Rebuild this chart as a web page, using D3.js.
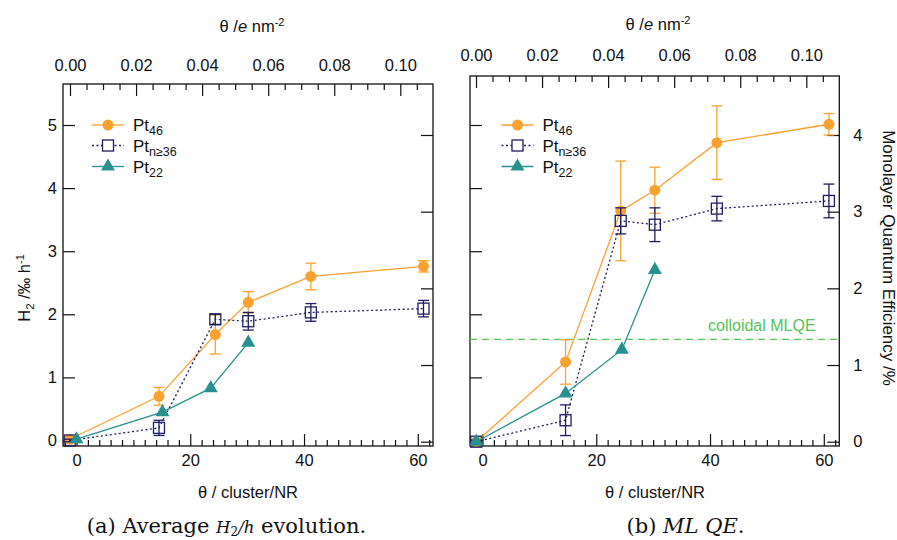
<!DOCTYPE html>
<html><head><meta charset="utf-8">
<script src="https://cdn.jsdelivr.net/npm/d3@7"></script>
<style>
body{margin:0;background:#fff}
svg{display:block}
text{font-family:"Liberation Sans",Arial,Helvetica,sans-serif;fill:#111}
</style>
</head><body>
<svg id="c" width="897" height="540"></svg>
<script>
// ---------------- DATA ----------------
// Panel (a): average H2 evolution rate (‰ h^-1)
const h2Pt46X   = [-1.2, 14.5, 24.4, 30.2, 41.2, 61.0];
const h2Pt46Y   = [0.02, 0.70, 1.68, 2.19, 2.60, 2.76];
const h2Pt46Err = [0.03, 0.14, 0.31, 0.17, 0.21, 0.09];
const h2PtnX    = [-1.2, 14.5, 24.4, 30.2, 41.2, 61.0];
const h2PtnY    = [0.00, 0.20, 1.92, 1.89, 2.03, 2.09];
const h2PtnErr  = [0.02, 0.12, 0.08, 0.14, 0.14, 0.13];
const h2Pt22X   = [0.0, 15.1, 23.6, 30.2];
const h2Pt22Y   = [0.02, 0.45, 0.83, 1.55];

// Panel (b): monolayer quantum efficiency (%)
const qPt46X   = [-1.1, 14.6, 24.3, 30.3, 41.2, 60.9];
const qPt46Y   = [0.00, 1.04, 3.01, 3.28, 3.90, 4.14];
const qPt46Err = [0.02, 0.29, 0.65, 0.30, 0.48, 0.14];
const qPtnX    = [-1.1, 14.6, 24.3, 30.3, 41.2, 60.9];
const qPtnY    = [0.00, 0.28, 2.88, 2.83, 3.04, 3.14];
const qPtnErr  = [0.02, 0.20, 0.17, 0.22, 0.16, 0.22];
const qPt22X   = [-1.1, 14.6, 24.5, 30.3];
const qPt22Y   = [0.00, 0.63, 1.20, 2.24];
const colloidalMLQE = 1.335;

// Ticks
const xMajor   = [0, 20, 40, 60];
const xMinor   = [-2,2,4,6,8,10,12,14,16,18,22,24,26,28,30,32,34,36,38,42,44,46,48,50,52,54,56,58,62];
const topMajor = [0.00, 0.02, 0.04, 0.06, 0.08, 0.10];
const topMinor = [0.005,0.01,0.015,0.025,0.03,0.035,0.045,0.05,0.055,0.065,0.07,0.075,0.085,0.09,0.095,0.105];
const h2Ticks  = [0, 1, 2, 3, 4, 5];
const qTicks   = [0, 1, 2, 3, 4];

const seriesNames = ["46", "n≥36", "22"];

// ---------------- STYLE ----------------
const C_OR = "#FBA130", C_NV = "#1E1C62", C_TL = "#27918F", C_GR = "#55C455";
const FS = 16.5;

const svg = d3.select("#c");

function zipPts(xs, ys, es) { return xs.map((x, i) => ({x, y: ys[i], e: es ? es[i] : 0})); }

function drawPanel(cfg) {
  const g = svg.append("g");
  const x  = d3.scaleLinear().domain([0, 60]).range([cfg.xz, cfg.xz + 341.3]);
  const xt = d3.scaleLinear().domain([0, 0.1]).range([cfg.tz, cfg.tz + 330.3]);
  const yH = d3.scaleLinear().domain([0, 5]).range([440.5, 125]);
  const yQ = d3.scaleLinear().domain([0, 4]).range([441.7, 135]);
  const y = cfg.which === "h2" ? yH : yQ;

  const styleAxis = sel => {
    sel.select(".domain").remove();
    sel.selectAll("line").attr("stroke", "#111").attr("stroke-width", 1.2);
    sel.selectAll("text").style("font-size", FS + "px").attr("fill", "#111");
  };

  // bottom axis
  g.append("g").attr("transform", `translate(0,${cfg.y1})`)
    .call(d3.axisBottom(x).tickValues(xMajor).tickSize(-12).tickPadding(8).tickFormat(d3.format("d")))
    .call(styleAxis);
  g.append("g").attr("transform", `translate(0,${cfg.y1})`)
    .call(d3.axisBottom(x).tickValues(xMinor).tickSize(-6).tickFormat(""))
    .call(styleAxis);
  // top axis
  g.append("g").attr("transform", `translate(0,${cfg.y0})`)
    .call(d3.axisTop(xt).tickValues(topMajor).tickSize(-12).tickPadding(cfg.topPad).tickFormat(d3.format(".2f")))
    .call(styleAxis);
  g.append("g").attr("transform", `translate(0,${cfg.y0})`)
    .call(d3.axisTop(xt).tickValues(topMinor).tickSize(-6).tickFormat(""))
    .call(styleAxis);
  // left axis (H2 scale)
  g.append("g").attr("transform", `translate(${cfg.x0},0)`)
    .call(d3.axisLeft(yH).tickValues(h2Ticks).tickSize(-12).tickPadding(6)
      .tickFormat(cfg.which === "h2" ? d3.format("d") : ""))
    .call(styleAxis);
  // right axis (MLQE scale)
  g.append("g").attr("transform", `translate(${cfg.x1},0)`)
    .call(d3.axisRight(yQ).tickValues(qTicks).tickSize(-12).tickPadding(14)
      .tickFormat(cfg.which === "q" ? d3.format("d") : ""))
    .call(styleAxis);

  // frame
  g.append("rect").attr("x", cfg.x0).attr("y", cfg.y0)
    .attr("width", cfg.x1 - cfg.x0).attr("height", cfg.y1 - cfg.y0)
    .attr("fill", "none").attr("stroke", "#111").attr("stroke-width", 1.3);

  // axis titles
  const tt = g.append("text").attr("x", cfg.topTitleX).attr("y", cfg.topTitleY)
    .attr("text-anchor", "middle").style("font-size", FS + "px");
  tt.append("tspan").text("θ /");
  tt.append("tspan").attr("font-style", "italic").text("e");
  tt.append("tspan").text(" nm");
  tt.append("tspan").attr("dy", -6).style("font-size", "11px").text("-2");

  g.append("text").attr("x", cfg.botTitleX).attr("y", 498)
    .attr("text-anchor", "middle").style("font-size", FS + "px").text("θ / cluster/NR");

  // colloidal reference line
  if (cfg.which === "q") {
    g.append("line").attr("x1", cfg.x0).attr("x2", cfg.x1)
      .attr("y1", yQ(colloidalMLQE)).attr("y2", yQ(colloidalMLQE))
      .attr("stroke", C_GR).attr("stroke-width", 1.2).attr("stroke-dasharray", "7,5");
    g.append("text").attr("x", 708).attr("y", yQ(colloidalMLQE) - 8)
      .style("font-size", "16px").style("fill", C_GR).text("colloidal MLQE");
  }

  const line = d3.line().x(d => x(d.x)).y(d => y(d.y));

  function errBars(pts, col) {
    const eg = g.append("g").attr("stroke", col).attr("stroke-width", 1.3);
    pts.forEach(d => {
      if (!d.e) return;
      eg.append("line").attr("x1", x(d.x)).attr("x2", x(d.x)).attr("y1", y(d.y - d.e)).attr("y2", y(d.y + d.e));
      [d.y - d.e, d.y + d.e].forEach(v => eg.append("line")
        .attr("x1", x(d.x) - 5.5).attr("x2", x(d.x) + 5.5).attr("y1", y(v)).attr("y2", y(v)));
    });
  }

  // Pt46
  const p46 = zipPts(cfg.d46x, cfg.d46y, cfg.d46e);
  errBars(p46, C_OR);
  g.append("path").datum(p46).attr("d", line).attr("fill", "none").attr("stroke", C_OR).attr("stroke-width", 1.3);
  g.selectAll(null).data(p46).join("circle").attr("cx", d => x(d.x)).attr("cy", d => y(d.y))
    .attr("r", 5.5).attr("fill", C_OR);

  // Pt n>=36
  const pn = zipPts(cfg.dnx, cfg.dny, cfg.dne);
  errBars(pn, C_NV);
  g.append("path").datum(pn).attr("d", line).attr("fill", "none").attr("stroke", C_NV)
    .attr("stroke-width", 1.3).attr("stroke-dasharray", "2,2.5");
  g.selectAll(null).data(pn).join("rect").attr("x", d => x(d.x) - 5.5).attr("y", d => y(d.y) - 5.5)
    .attr("width", 11).attr("height", 11).attr("fill", "none").attr("stroke", C_NV).attr("stroke-width", 1.3);

  // Pt22
  const p22 = zipPts(cfg.d22x, cfg.d22y, null);
  g.append("path").datum(p22).attr("d", line).attr("fill", "none").attr("stroke", C_TL).attr("stroke-width", 1.3);
  const tri = d3.symbol().type(d3.symbolTriangle).size(85);
  g.selectAll(null).data(p22).join("path").attr("d", tri)
    .attr("transform", d => `translate(${x(d.x)},${y(d.y)})`).attr("fill", C_TL);

  // legend
  const lg = g.append("g");
  const lx0 = cfg.legX, rows = [125, 145.5, 166.5];
  const cols = [C_OR, C_NV, C_TL];
  rows.forEach((ry, i) => {
    lg.append("line").attr("x1", lx0).attr("x2", lx0 + 32).attr("y1", ry).attr("y2", ry)
      .attr("stroke", cols[i]).attr("stroke-width", 1.3).attr("stroke-dasharray", i === 1 ? "2,2.5" : null);
    const cx = lx0 + 16;
    if (i === 0) lg.append("circle").attr("cx", cx).attr("cy", ry).attr("r", 5.5).attr("fill", C_OR);
    if (i === 1) lg.append("rect").attr("x", cx - 5.5).attr("y", ry - 5.5).attr("width", 11).attr("height", 11)
      .attr("fill", "#fff").attr("stroke", C_NV).attr("stroke-width", 1.3);
    if (i === 2) lg.append("path").attr("d", tri).attr("transform", `translate(${cx},${ry})`).attr("fill", C_TL);
    const t = lg.append("text").attr("x", lx0 + 41).attr("y", ry + 6).style("font-size", "17px");
    t.append("tspan").text("Pt");
    t.append("tspan").attr("dy", 4).style("font-size", "12.5px").text(seriesNames[i]);
  });
}

drawPanel({which: "h2", x0: 63, x1: 433, y0: 84, y1: 446, xz: 76.5, tz: 70, topPad: 13.5,
  topTitleX: 252, topTitleY: 32, botTitleX: 248, legX: 92,
  d46x: h2Pt46X, d46y: h2Pt46Y, d46e: h2Pt46Err, dnx: h2PtnX, dny: h2PtnY, dne: h2PtnErr, d22x: h2Pt22X, d22y: h2Pt22Y});
drawPanel({which: "q", x0: 470, x1: 839.3, y0: 76, y1: 446, xz: 482.5, tz: 476, topPad: 15.5,
  topTitleX: 658, topTitleY: 30, botTitleX: 655, legX: 501.5,
  d46x: qPt46X, d46y: qPt46Y, d46e: qPt46Err, dnx: qPtnX, dny: qPtnY, dne: qPtnErr, d22x: qPt22X, d22y: qPt22Y});

// y titles
const yl = svg.append("text").attr("transform", "translate(30,288) rotate(-90)")
  .attr("text-anchor", "middle").style("font-size", FS + "px");
yl.append("tspan").text("H");
yl.append("tspan").attr("dy", 4).style("font-size", "11.5px").text("2");
yl.append("tspan").attr("dy", -4).text(" /‰ h");
yl.append("tspan").attr("dy", -6).style("font-size", "11px").text("-1");

svg.append("text").attr("transform", "translate(883,258) rotate(90)")
  .attr("text-anchor", "middle").style("font-size", "17px").text("Monolayer Quantum Efficiency /%");

// captions
const capFont = '"DejaVu Serif","Liberation Serif",serif';
const ca = svg.append("text").attr("x", 226.5).attr("y", 533).attr("text-anchor", "middle")
  .style("font-family", capFont).style("font-size", "21px");
ca.append("tspan").text("(a) Average ");
ca.append("tspan").attr("font-style", "italic").style("font-size", "16.5px").text("H");
ca.append("tspan").attr("dy", 3).style("font-size", "12px").text("2");
ca.append("tspan").attr("dy", -3).style("font-size", "16.5px").attr("font-style", "italic").text("/h");
ca.append("tspan").text(" evolution.");

const cb = svg.append("text").attr("x", 685.5).attr("y", 533).attr("text-anchor", "middle")
  .style("font-family", capFont).style("font-size", "21px");
cb.append("tspan").text("(b) ");
cb.append("tspan").attr("font-style", "italic").text("ML QE");
cb.append("tspan").text(".");
</script>
</body></html>
